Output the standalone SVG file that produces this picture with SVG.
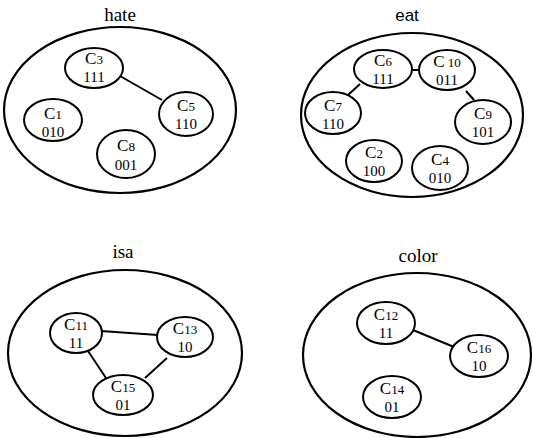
<svg xmlns="http://www.w3.org/2000/svg" width="533" height="438" viewBox="0 0 533 438">
<style>
.outer{fill:none;stroke:#000;stroke-width:2.2}
.node{fill:#fff;stroke:#000;stroke-width:2}
.edge{stroke:#000;stroke-width:2;fill:none}
.t{font-family:"Liberation Serif",serif;fill:#000;text-anchor:middle}
.c{font-size:17px}
.s{font-size:13px}
.v{font-size:15px}
.lbl{font-family:"Liberation Serif",serif;font-size:19px;text-anchor:middle;fill:#000}
.lbls{font-family:"Liberation Sans",sans-serif;font-size:17px;text-anchor:middle;fill:#000}
</style>
<rect width="533" height="438" fill="#fff"/>
<g id="connectors">
<line class="edge" x1="120" y1="76" x2="162" y2="100"/>
<line class="edge" x1="411" y1="70" x2="419" y2="70"/>
<line class="edge" x1="360" y1="84" x2="348" y2="95"/>
<line class="edge" x1="466" y1="91" x2="474" y2="100"/>
<line class="edge" x1="101" y1="331" x2="158" y2="335"/>
<line class="edge" x1="88" y1="351" x2="106" y2="378"/>
<line class="edge" x1="167" y1="358" x2="145" y2="378"/>
<line class="edge" x1="413" y1="330" x2="454" y2="347"/>
</g>
<g id="hate">
<text class="lbl" x="120" y="21">hate</text>
<ellipse class="outer" cx="120" cy="110" rx="116" ry="83"/>
</g>
<g id="eat">
<text class="lbls" x="407" y="21">eat</text>
<ellipse class="outer" cx="412" cy="115" rx="111" ry="82"/>
</g>
<g id="isa">
<text class="lbl" x="123" y="258">isa</text>
<ellipse class="outer" cx="125" cy="353" rx="117" ry="83"/>
</g>
<g id="color">
<text class="lbl" x="418" y="262">color</text>
<ellipse class="outer" cx="417" cy="355" rx="114" ry="82"/>
</g>
<g id="C3"><ellipse class="node" cx="94" cy="68" rx="29" ry="20"/><text class="t" x="94" y="64"><tspan class="c">C</tspan><tspan class="s">3</tspan><tspan class="v" x="94" dy="17.5">111</tspan></text></g>
<g id="C5"><ellipse class="node" cx="186" cy="114" rx="27" ry="22"/><text class="t" x="186" y="111"><tspan class="c">C</tspan><tspan class="s">5</tspan><tspan class="v" x="186" dy="17.5">110</tspan></text></g>
<g id="C1"><ellipse class="node" cx="53" cy="120" rx="29" ry="21"/><text class="t" x="53" y="119"><tspan class="c">C</tspan><tspan class="s">1</tspan><tspan class="v" x="53" dy="17.5">010</tspan></text></g>
<g id="C8"><ellipse class="node" cx="126" cy="154" rx="29" ry="24"/><text class="t" x="126" y="151"><tspan class="c">C</tspan><tspan class="s">8</tspan><tspan class="v" x="126" dy="18.5">001</tspan></text></g>
<g id="C6"><ellipse class="node" cx="383" cy="69" rx="29" ry="19"/><text class="t" x="383" y="66"><tspan class="c">C</tspan><tspan class="s">6</tspan><tspan class="v" x="383" dy="17.5">111</tspan></text></g>
<g id="C10"><ellipse class="node" cx="447" cy="70" rx="28" ry="20"/><text class="t" x="447" y="67"><tspan class="c">C</tspan><tspan class="s"> 10</tspan><tspan class="v" x="447" dy="17.5">011</tspan></text></g>
<g id="C7"><ellipse class="node" cx="333" cy="113" rx="28" ry="21"/><text class="t" x="333" y="111"><tspan class="c">C</tspan><tspan class="s">7</tspan><tspan class="v" x="333" dy="17.5">110</tspan></text></g>
<g id="C9"><ellipse class="node" cx="483" cy="122" rx="28" ry="22"/><text class="t" x="483" y="119"><tspan class="c">C</tspan><tspan class="s">9</tspan><tspan class="v" x="483" dy="18">101</tspan></text></g>
<g id="C2"><ellipse class="node" cx="374" cy="161" rx="28" ry="21"/><text class="t" x="374" y="158"><tspan class="c">C</tspan><tspan class="s">2</tspan><tspan class="v" x="374" dy="17.5">100</tspan></text></g>
<g id="C4"><ellipse class="node" cx="440" cy="168" rx="28" ry="22"/><text class="t" x="440" y="165"><tspan class="c">C</tspan><tspan class="s">4</tspan><tspan class="v" x="440" dy="18">010</tspan></text></g>
<g id="C11"><ellipse class="node" cx="76" cy="333" rx="26" ry="20"/><text class="t" x="76" y="330"><tspan class="c">C</tspan><tspan class="s">11</tspan><tspan class="v" x="76" dy="17.5">11</tspan></text></g>
<g id="C13"><ellipse class="node" cx="185" cy="337" rx="28" ry="20"/><text class="t" x="185" y="334"><tspan class="c">C</tspan><tspan class="s">13</tspan><tspan class="v" x="185" dy="17.5">10</tspan></text></g>
<g id="C15"><ellipse class="node" cx="123" cy="395" rx="30" ry="20"/><text class="t" x="123" y="392"><tspan class="c">C</tspan><tspan class="s">15</tspan><tspan class="v" x="123" dy="17.5">01</tspan></text></g>
<g id="C12"><ellipse class="node" cx="386" cy="323" rx="29" ry="21"/><text class="t" x="386" y="320"><tspan class="c">C</tspan><tspan class="s">12</tspan><tspan class="v" x="386" dy="17.5">11</tspan></text></g>
<g id="C16"><ellipse class="node" cx="479" cy="356" rx="29" ry="21"/><text class="t" x="479" y="353"><tspan class="c">C</tspan><tspan class="s">16</tspan><tspan class="v" x="479" dy="17.5">10</tspan></text></g>
<g id="C14"><ellipse class="node" cx="392" cy="397" rx="29" ry="21"/><text class="t" x="392" y="394"><tspan class="c">C</tspan><tspan class="s">14</tspan><tspan class="v" x="392" dy="17.5">01</tspan></text></g>
</svg>
